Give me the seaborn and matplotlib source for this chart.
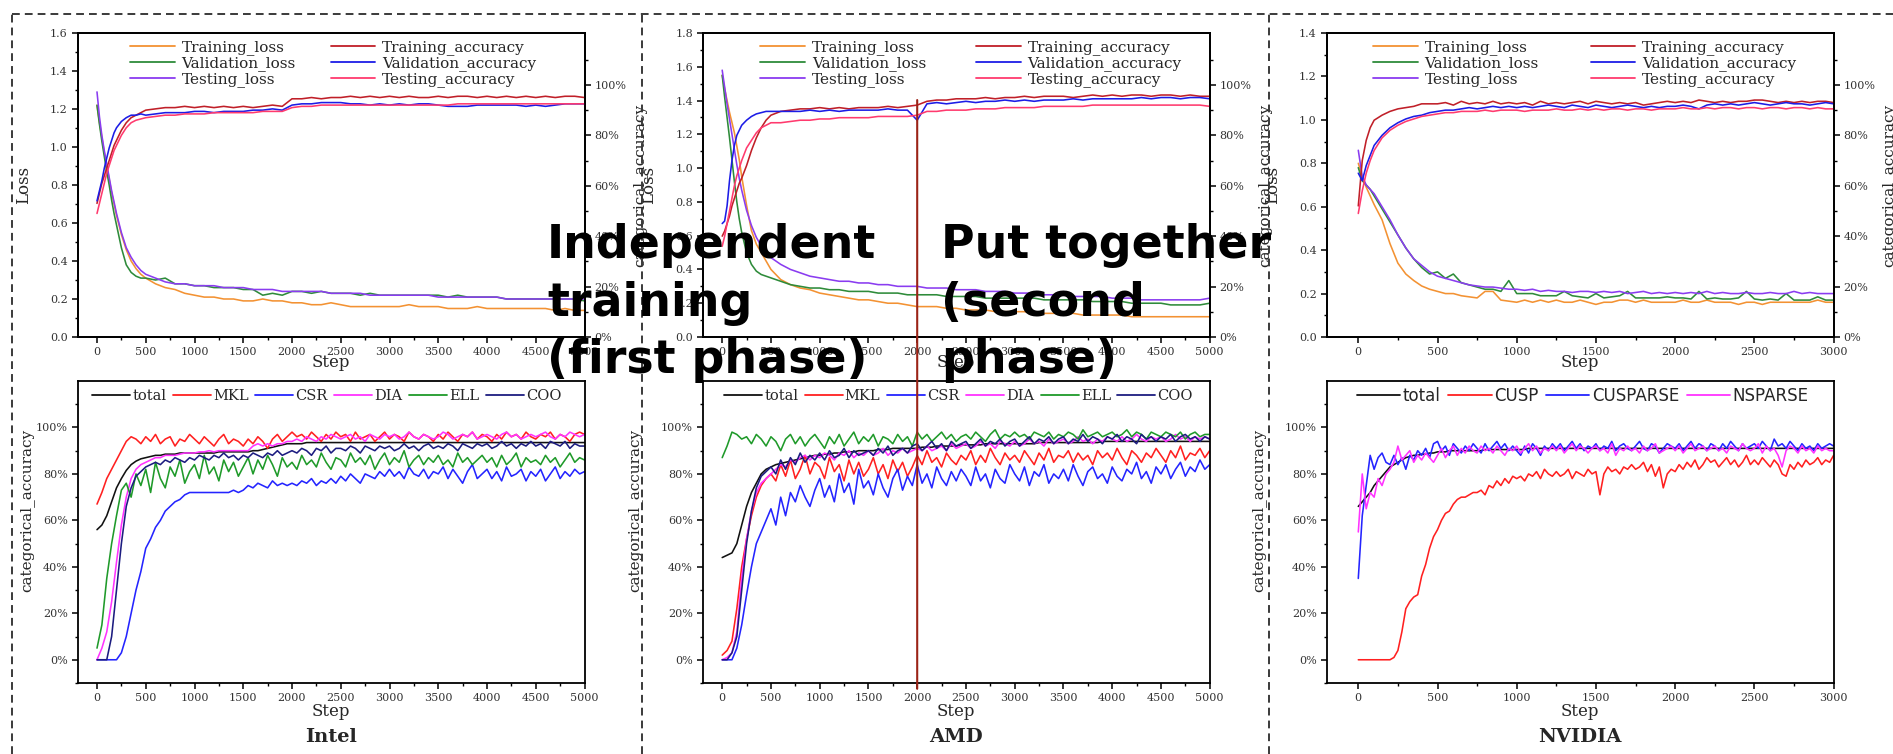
import matplotlib
matplotlib.use("Agg")
import matplotlib.pyplot as plt
import seaborn as sns
from matplotlib.lines import Line2D
from matplotlib.patches import ConnectionPatch
from matplotlib.ticker import MultipleLocator, FixedLocator, FuncFormatter

# ---------------- DATA ----------------
STEPS_TOP5 = [0, 25, 50, 75, 100, 125, 150, 175, 200, 250, 300, 350, 400, 450, 500] + list(range(600, 5001, 100))
STEPS_TOP3 = [0, 25, 50, 75, 100, 150, 200, 250, 300, 350, 400, 450, 500] + list(range(550, 3001, 50))
STEPS_BOT5 = list(range(0, 5001, 50))
STEPS_BOT3 = list(range(0, 3001, 25))

TOP_LABELS = ["Training_loss", "Validation_loss", "Testing_loss",
              "Training_accuracy", "Validation_accuracy", "Testing_accuracy"]

INTEL_TRAIN_LOSS = [1.22, 1.13, 1.05, 0.97, 0.90, 0.83, 0.76, 0.70, 0.64, 0.54, 0.46, 0.40, 0.36, 0.33, 0.31,
                    0.28, 0.26, 0.25, 0.23, 0.22, 0.21, 0.21, 0.20, 0.20, 0.19, 0.19, 0.20, 0.19, 0.19, 0.18,
                    0.18, 0.17, 0.17, 0.18, 0.17, 0.16, 0.16, 0.16, 0.16, 0.16, 0.16, 0.17, 0.16, 0.16, 0.16,
                    0.15, 0.15, 0.15, 0.16, 0.15, 0.15, 0.15, 0.15, 0.15, 0.15, 0.15, 0.14, 0.15, 0.14, 0.14]
INTEL_VAL_LOSS = [1.22, 1.12, 1.03, 0.95, 0.87, 0.80, 0.72, 0.65, 0.59, 0.47, 0.38, 0.34, 0.32, 0.31, 0.31,
                  0.30, 0.31, 0.28, 0.28, 0.27, 0.27, 0.26, 0.26, 0.26, 0.25, 0.25, 0.22, 0.23, 0.22, 0.24,
                  0.24, 0.23, 0.24, 0.23, 0.23, 0.23, 0.22, 0.23, 0.22, 0.22, 0.22, 0.22, 0.22, 0.22, 0.22,
                  0.21, 0.22, 0.21, 0.21, 0.21, 0.21, 0.20, 0.20, 0.20, 0.20, 0.20, 0.20, 0.20, 0.20, 0.19]
INTEL_TEST_LOSS = [1.29, 1.16, 1.06, 0.98, 0.91, 0.84, 0.77, 0.71, 0.65, 0.55, 0.47, 0.42, 0.38, 0.35, 0.33,
                   0.31, 0.29, 0.28, 0.28, 0.27, 0.27, 0.27, 0.26, 0.26, 0.26, 0.25, 0.25, 0.25, 0.24, 0.24,
                   0.24, 0.24, 0.24, 0.23, 0.23, 0.23, 0.23, 0.22, 0.22, 0.22, 0.22, 0.22, 0.22, 0.22, 0.21,
                   0.21, 0.21, 0.21, 0.21, 0.21, 0.21, 0.20, 0.20, 0.20, 0.20, 0.20, 0.20, 0.20, 0.20, 0.20]
INTEL_TRAIN_ACC = [53, 57, 61, 64, 67, 70, 73, 76, 78, 82, 85, 87, 88, 89, 90,
                   90.5, 91, 91, 91.5, 91, 91.5, 91, 91.5, 91, 91.5, 91, 91.5, 92, 91.5, 94.5,
                   94.5, 95, 94.5, 95, 95, 95.5, 95, 95.5, 95, 95.5, 95, 95.5, 95, 95, 95.5,
                   95, 95.5, 95.5, 95, 95.5, 95, 95.5, 95, 95.5, 95, 95.5, 95, 95.5, 95.5, 95]
INTEL_VAL_ACC = [54, 58, 62, 67, 71, 75, 78, 81, 83, 85.5, 87, 88, 88, 88.5, 88,
                 88.5, 89, 89, 89, 89.5, 89.5, 89, 89.5, 89.5, 89.5, 90, 90, 90.5, 90, 92,
                 92.5, 92.5, 93, 93, 93, 92.5, 92.5, 92, 92.5, 92, 92.5, 92, 92.5, 92.5, 92,
                 91.5, 91.5, 91.5, 92, 92, 92, 92, 92, 91.5, 92, 91.5, 92, 92.5, 92.5, 92.5]
INTEL_TEST_ACC = [49, 53, 57, 61, 65, 68, 71, 74, 76, 80, 83, 85, 86, 86.5, 87,
                  87.5, 88, 88, 88.5, 88.5, 88.5, 89, 89, 89, 89, 89, 89.5, 89.5, 89.5, 91,
                  91.5, 91.5, 92, 92, 92, 92, 92, 92, 92, 92, 92, 92, 92, 92, 92,
                  92, 92.5, 92.5, 92.5, 92.5, 92.5, 92.5, 92.5, 92.5, 92.5, 92.5, 92.5, 92.5, 92.5, 92.5]

AMD_TRAIN_LOSS = [1.55, 1.47, 1.40, 1.33, 1.27, 1.21, 1.13, 1.05, 0.95, 0.78, 0.63, 0.55, 0.50, 0.45, 0.40,
                  0.34, 0.31, 0.29, 0.28, 0.26, 0.25, 0.24, 0.23, 0.22, 0.22, 0.21, 0.20, 0.20, 0.19, 0.18,
                  0.18, 0.18, 0.17, 0.17, 0.16, 0.16, 0.16, 0.15, 0.15, 0.15, 0.15, 0.14, 0.14, 0.14, 0.14,
                  0.14, 0.13, 0.13, 0.13, 0.13, 0.13, 0.12, 0.12, 0.12, 0.12, 0.12, 0.12, 0.12, 0.12, 0.12]
AMD_VAL_LOSS = [1.55, 1.42, 1.30, 1.18, 1.05, 0.92, 0.80, 0.70, 0.62, 0.50, 0.43, 0.39, 0.37, 0.36, 0.35,
                0.33, 0.31, 0.30, 0.29, 0.29, 0.28, 0.28, 0.27, 0.27, 0.27, 0.26, 0.26, 0.26, 0.25, 0.25,
                0.25, 0.25, 0.24, 0.24, 0.24, 0.24, 0.23, 0.23, 0.23, 0.23, 0.23, 0.23, 0.22, 0.22, 0.22,
                0.22, 0.22, 0.21, 0.21, 0.21, 0.21, 0.20, 0.20, 0.20, 0.20, 0.19, 0.19, 0.19, 0.19, 0.20]
AMD_TEST_LOSS = [1.58, 1.48, 1.38, 1.29, 1.20, 1.11, 1.02, 0.94, 0.87, 0.75, 0.66, 0.59, 0.54, 0.50, 0.47,
                 0.43, 0.40, 0.38, 0.36, 0.35, 0.34, 0.33, 0.33, 0.32, 0.32, 0.31, 0.31, 0.30, 0.30, 0.30,
                 0.29, 0.29, 0.29, 0.28, 0.28, 0.28, 0.27, 0.27, 0.27, 0.26, 0.26, 0.26, 0.25, 0.25, 0.25,
                 0.24, 0.24, 0.24, 0.24, 0.23, 0.23, 0.23, 0.22, 0.22, 0.22, 0.22, 0.22, 0.22, 0.22, 0.23]
AMD_TRAIN_ACC = [40, 42, 45, 48, 52, 55, 58, 61, 63, 68, 74, 79, 83, 86, 88,
                 89.5, 90, 90.5, 90.5, 91, 90.5, 91, 90.5, 91, 91, 91, 91.5, 91, 91.5, 92,
                 93.5, 94, 94, 94.5, 94.5, 94.5, 95, 94.5, 95, 95, 95.5, 95, 95.5, 95.5, 95.5,
                 95, 95.5, 96, 95.5, 96, 95.5, 96, 96, 95.5, 96, 96, 95.5, 96, 95.5, 95.5]
AMD_VAL_ACC = [45, 46, 52, 62, 70, 76, 80, 82, 84, 86, 87.5, 88.5, 89, 89.5, 89.5,
               89.5, 89.5, 89.5, 90, 89.5, 90, 89.5, 90, 90, 90, 90, 90.5, 90, 90, 86,
               92.5, 93, 92.5, 93, 93.5, 93, 93.5, 93.5, 94, 93.5, 94, 93.5, 94, 94, 94,
               94.5, 94, 94.5, 94.5, 94.5, 94.5, 94.5, 95, 94.5, 95, 95, 94.5, 95, 95, 94.5]
AMD_TEST_ACC = [36, 40, 45, 50, 55, 60, 64, 67, 70, 75, 78, 81, 83, 84, 85,
                85, 85.5, 86, 86, 86.5, 86.5, 87, 87, 87, 87, 87.5, 87.5, 87.5, 87.5, 88,
                89.5, 89.5, 90, 90, 90, 90.5, 90.5, 90.5, 91, 91, 91, 91, 91.5, 91.5, 91.5,
                91.5, 91.5, 92, 92, 92, 92, 92, 92, 92, 92, 92, 92, 92, 92, 91.5]

NV_TRAIN_LOSS = [0.80, 0.74, 0.69, 0.65, 0.61, 0.54, 0.43, 0.34, 0.29, 0.26, 0.235, 0.22, 0.21,
                 0.20, 0.20, 0.19, 0.185, 0.18, 0.21, 0.21, 0.17, 0.165, 0.16,
                 0.17, 0.16, 0.17, 0.16, 0.17, 0.16, 0.16, 0.17, 0.16, 0.15,
                 0.16, 0.16, 0.17, 0.17, 0.16, 0.17, 0.16, 0.16, 0.16, 0.16,
                 0.17, 0.16, 0.16, 0.17, 0.16, 0.16, 0.16, 0.15, 0.16, 0.16,
                 0.15, 0.16, 0.16, 0.16, 0.16, 0.16, 0.16, 0.17, 0.16, 0.16]
NV_VAL_LOSS = [0.78, 0.72, 0.70, 0.68, 0.65, 0.59, 0.53, 0.47, 0.41, 0.36, 0.32, 0.29, 0.30,
               0.27, 0.29, 0.25, 0.24, 0.23, 0.22, 0.22, 0.21, 0.26, 0.20,
               0.20, 0.20, 0.19, 0.19, 0.19, 0.21, 0.19, 0.185, 0.18, 0.20,
               0.18, 0.185, 0.19, 0.21, 0.18, 0.18, 0.18, 0.18, 0.185, 0.18,
               0.18, 0.175, 0.21, 0.175, 0.18, 0.175, 0.175, 0.18, 0.21, 0.175,
               0.17, 0.175, 0.17, 0.20, 0.17, 0.17, 0.17, 0.185, 0.17, 0.17]
NV_TEST_LOSS = [0.86, 0.74, 0.70, 0.68, 0.66, 0.60, 0.54, 0.47, 0.41, 0.36, 0.33, 0.30, 0.28,
                0.27, 0.26, 0.25, 0.24, 0.235, 0.23, 0.23, 0.225, 0.22, 0.22,
                0.215, 0.22, 0.21, 0.215, 0.21, 0.21, 0.205, 0.21, 0.21, 0.205,
                0.21, 0.205, 0.21, 0.20, 0.205, 0.21, 0.20, 0.205, 0.20, 0.205,
                0.20, 0.205, 0.20, 0.21, 0.20, 0.205, 0.20, 0.20, 0.205, 0.20,
                0.20, 0.205, 0.20, 0.20, 0.21, 0.20, 0.205, 0.20, 0.20, 0.20]
NV_TRAIN_ACC = [52, 70, 78, 83, 86, 88, 89.5, 90.5, 91, 91.5, 92.5, 92.5, 92.5,
                93, 92, 93.5, 92.5, 93, 92.5, 93.5, 92.5, 93, 92.5,
                93, 92, 93.5, 92.5, 93, 92.5, 93, 93.5, 92.5, 93.5,
                93, 92.5, 93, 92.5, 93, 92, 92.5, 93, 93.5, 93,
                93.5, 93, 94, 93.5, 93, 93.5, 93, 93.5, 93.5, 94,
                94, 93.5, 93, 93.5, 93, 93.5, 93, 93.5, 93.5, 93]
NV_VAL_ACC = [65, 62, 68, 72, 76, 80, 83, 85, 86.5, 87.5, 88, 89, 89.5,
              90, 90, 90.5, 91, 90.5, 91, 91.5, 91, 91.5, 91,
              91.5, 91, 91.5, 92, 91.5, 91, 92, 91.5, 91, 92,
              91.5, 91, 91.5, 92, 91.5, 91, 91.5, 91, 91.5, 91.5,
              92, 91.5, 90.5, 92, 92.5, 92, 92.5, 92, 92.5, 93,
              92.5, 92, 92.5, 93, 92.5, 92.5, 92, 92.5, 93, 92.5]
NV_TEST_ACC = [49, 58, 65, 70, 74, 79, 82, 84, 85.5, 86.5, 87.5, 88, 88.5,
               89, 89, 89.5, 89.5, 89.5, 90, 89.5, 90, 90, 90,
               89.5, 90, 90, 90, 90.5, 90, 90, 90.5, 90, 90.5,
               90, 90.5, 90.5, 90, 90.5, 90.5, 90, 90.5, 90.5, 90.5,
               91, 90.5, 90.5, 91, 90.5, 91, 91, 90.5, 91, 91,
               90.5, 91, 91, 90.5, 91, 91, 90.5, 91, 90.5, 90.5]

INTEL_FORMATS = ["total", "MKL", "CSR", "DIA", "ELL", "COO"]
INTEL_TOTAL = [56, 58, 62, 68, 74, 78, 81.5, 84, 85.5, 86.5,
               87, 87.5, 88, 88, 88.5, 88.5, 88.5, 89, 89, 89,
               89, 89, 89, 89, 89, 89.5, 89.5, 89.5, 89.5, 89.5,
               89.5, 89.5, 90, 90, 90.5, 91, 91.5, 92, 92.5, 93,
               93, 93, 93, 93.5, 93.5, 93.5, 93.5, 93.5, 93.5, 93.5,
               93.5, 93.5, 93.5, 93.5, 93.5, 93.5, 93.5, 93.5, 93.5, 93.5,
               93.5, 93.5, 93.5, 93.5, 93.5, 93.5, 93.5, 93.5, 93.5, 93.5,
               93.5, 93.5, 93.5, 93.5, 93.5, 93.5, 93.5, 93.5, 93.5, 93.5,
               93.5, 93.5, 93.5, 93.5, 93.5, 93.5, 93.5, 93.5, 93.5, 93.5,
               93.5, 93.5, 93.5, 93.5, 93.5, 93.5, 93.5, 93.5, 93.5, 93.5,
               93.5]
INTEL_MKL = [67, 72, 78, 82, 86, 90, 94, 96, 95, 93,
             96, 94, 97, 93, 95, 96, 92, 95, 94, 97,
             95, 93, 96, 94, 92, 95, 97, 93, 95, 94,
             92, 95, 93, 96, 94, 91, 95, 97, 94, 96,
             98, 96, 97, 95, 98, 96, 94, 97, 95, 98,
             96, 97, 94, 98, 95, 96, 97, 94, 96, 98,
             95, 97, 96, 94, 98, 96, 95, 97, 96, 94,
             97, 95, 98, 96, 94, 97, 96, 98, 95, 97,
             96, 94, 97, 95, 98, 96, 97, 95, 98, 96,
             95, 97, 96, 98, 95, 97, 96, 94, 97, 98,
             97]
INTEL_CSR = [0, 0, 0, 0, 0, 3, 10, 20, 30, 38,
             48, 52, 57, 60, 64, 66, 68, 69, 71, 72,
             72, 72, 72, 72, 72, 72, 72, 72, 73, 72,
             73, 75, 74, 76, 75, 74, 77, 75, 76, 75,
             76, 75, 77, 76, 78, 75, 77, 76, 78, 76,
             79, 77, 80, 78, 76, 80, 79, 78, 81, 79,
             82, 79, 81, 78, 83, 80, 79, 82, 78, 81,
             80, 83, 78, 82, 79, 76, 81, 84, 78, 80,
             82, 78, 81, 77, 83, 79, 80, 82, 77, 81,
             79, 82, 77, 80, 83, 78, 81, 79, 82, 80,
             81]
INTEL_DIA = [0, 5, 12, 25, 42, 58, 70, 78, 82, 84,
             85, 86, 87, 87, 88, 88, 88, 88.5, 89, 89,
             89, 89.5, 89.5, 90, 89.5, 90, 90, 90, 90, 90,
             90, 90, 92, 93, 92, 93, 92, 93, 93, 94,
             94, 95, 94, 96, 95, 94, 96, 95, 97, 96,
             95, 96, 97, 95, 96, 94, 97, 96, 95, 97,
             96, 97, 95, 96, 98, 96, 95, 97, 96, 95,
             96, 98, 97, 95, 96, 97, 96, 98, 95, 96,
             97, 96, 95, 97, 98, 96, 97, 95, 96, 97,
             96, 97, 98, 96, 95, 97, 96, 98, 97, 96,
             97]
INTEL_ELL = [5, 15, 35, 50, 62, 73, 76, 70, 80, 75,
             82, 72, 85, 78, 74, 83, 79, 86, 76, 81,
             84, 78, 88, 80, 83, 77, 86, 81, 85, 79,
             83, 87, 80, 86, 82, 88, 84, 79, 87, 83,
             85, 82, 88, 84, 86, 83, 89, 85, 82, 87,
             86, 83, 89, 85, 87, 84, 88, 82, 86, 89,
             84, 87, 85, 90, 83, 86, 88, 84, 87, 85,
             88, 84, 86, 83, 89, 85, 87, 84, 86, 88,
             85, 87, 83, 88, 84, 86, 89, 83, 87, 85,
             86, 84, 88, 85, 87, 83, 86, 89, 85, 87,
             86]
INTEL_COO = [0, 0, 0, 10, 30, 50, 66, 74, 79, 81,
             83, 84, 85, 84, 86, 85, 87, 86, 85, 87,
             86, 88, 87, 86, 88, 87, 89, 87, 88, 86,
             88, 87, 89, 88, 87, 89, 88, 90, 88, 89,
             90, 89, 91, 90, 88, 91, 90, 92, 89, 91,
             91, 90, 92, 91, 89, 92, 91, 90, 92, 91,
             92, 90, 91, 93, 91, 92, 90, 92, 93, 91,
             92, 91, 93, 92, 90, 93, 92, 91, 93, 92,
             93, 91, 92, 94, 92, 93, 91, 93, 92, 94,
             92, 93, 91, 94, 93, 92, 94, 91, 93, 92,
             92]

AMD_TOTAL = [44, 45, 46, 50, 58, 66, 72, 76, 80, 82,
             83, 84, 84.5, 85, 85.5, 86, 86.5, 87, 87.5, 88,
             88, 88.5, 88.5, 89, 89, 89.5, 89.5, 89.5, 90, 90,
             90, 90, 90.5, 90.5, 90.5, 91, 91, 91, 91, 91,
             91, 91.5, 91.5, 91.5, 92, 92, 92, 92, 92, 92.5,
             92.5, 92.5, 92.5, 92.5, 93, 93, 93, 93, 93, 93,
             93, 93, 93, 93, 93, 93.5, 93.5, 93.5, 93.5, 93.5,
             93.5, 93.5, 93.5, 93.5, 93.5, 93.5, 93.5, 93.5, 94, 94,
             94, 94, 94, 94, 94, 94, 94, 94, 94, 94,
             94, 94, 94, 94, 94, 94, 94, 94, 94, 94,
             94]
AMD_MKL = [2, 4, 8, 22, 40, 52, 62, 70, 75, 78,
           80, 77, 84, 79, 86, 78, 82, 88, 80, 85,
           83, 78, 87, 81, 84, 77, 86, 80, 85, 79,
           82, 87, 80, 84, 78, 86, 81, 85, 79, 83,
           88, 84, 90, 85, 87, 83, 89, 86, 84, 88,
           86, 90, 84, 88, 85, 91, 87, 84, 89, 86,
           88, 85, 90, 87, 84, 89, 86, 91, 85, 88,
           87, 90, 85, 89, 86, 88, 84, 90, 87, 89,
           86, 91, 87, 84, 90, 88, 85, 89, 87, 91,
           88, 85, 90, 87, 92, 86, 89, 88, 91, 87,
           90]
AMD_CSR = [0, 0, 0, 5, 15, 28, 40, 50, 55, 60,
           65, 58, 70, 62, 72, 68, 75, 70, 66, 73,
           78, 70, 75, 68, 80, 72, 76, 67, 82, 74,
           77, 71, 80, 74, 70, 78, 82, 73, 79, 75,
           84, 76, 80, 74, 83, 78, 75, 81, 77, 82,
           79, 75, 83, 77, 80, 74, 82, 78, 76, 84,
           80, 77, 83, 75, 81, 79, 84, 76, 80, 78,
           82, 77, 84, 79, 75, 81, 83, 78, 80, 76,
           83, 79, 77, 82, 80, 85, 78, 81, 76, 83,
           80, 84, 78, 82, 85, 79, 83, 81, 86, 82,
           84]
AMD_DIA = [0, 1, 3, 12, 35, 52, 64, 72, 76, 78,
           80, 82, 84, 83, 86, 85, 87, 88, 86, 88,
           87, 89, 88, 86, 89, 88, 90, 87, 89, 88,
           90, 88, 89, 91, 88, 90, 89, 91, 89, 90,
           91, 90, 92, 90, 91, 92, 90, 93, 91, 92,
           93, 91, 92, 94, 92, 93, 91, 94, 93, 92,
           94, 92, 93, 95, 93, 94, 92, 95, 93, 94,
           95, 93, 94, 96, 94, 95, 93, 95, 94, 96,
           95, 94, 96, 94, 95, 97, 95, 94, 96, 95,
           96, 94, 95, 97, 95, 96, 94, 96, 95, 96,
           95]
AMD_ELL = [87, 92, 98, 97, 95, 96, 93, 97, 95, 92,
           96, 94, 90, 95, 97, 93, 96, 92, 95, 97,
           94, 91, 96, 93, 97, 92, 95, 98, 93, 96,
           94, 97, 92, 96, 95, 93, 97, 94, 96, 92,
           98, 95, 97, 94, 96, 98, 95, 97, 94, 96,
           97, 95, 98, 96, 94, 97, 99, 95, 97, 96,
           98, 96, 97, 95, 98, 97, 96, 98, 95, 97,
           96, 98, 97, 95, 99, 96, 97, 98, 96, 97,
           98, 96, 97, 99, 96, 98, 97, 95, 98, 97,
           96, 98, 97, 96, 98, 95, 97, 98, 96, 97,
           97]
AMD_COO = [0, 0, 3, 10, 30, 50, 64, 74, 79, 81,
           83, 80, 86, 82, 87, 84, 89, 85, 88, 86,
           89, 86, 90, 87, 88, 91, 87, 90, 88, 89,
           90, 88, 91, 89, 92, 88, 90, 91, 89, 92,
           93, 90, 92, 94, 91, 93, 90, 94, 92, 93,
           94, 91, 93, 95, 92, 94, 93, 95, 92, 94,
           95, 92, 94, 96, 93, 95, 94, 96, 93, 95,
           96, 93, 95, 94, 97, 94, 96, 95, 93, 96,
           95, 97, 94, 96, 95, 93, 97, 95, 96, 94,
           96, 95, 97, 94, 96, 97, 95, 96, 94, 96,
           95]

NV_FORMATS = ["total", "CUSP", "CUSPARSE", "NSPARSE"]
NV_TOTAL = [66, 68, 70, 72, 75, 77, 79, 81, 83, 84,
            85, 86, 87, 87.5, 88, 88, 88.5, 88.5, 89, 89,
            89.5, 89.5, 89.5, 90, 90, 90, 90, 90, 90, 90,
            90, 90, 90.5, 90.5, 90.5, 90.5, 90.5, 90.5, 90.5, 90.5,
            90.5, 90.5, 90.5, 91, 91, 91, 91, 91, 91, 91,
            91, 91, 91, 91, 91, 91, 91, 91, 91, 91,
            91, 91, 91, 91, 91, 91, 91, 91, 91, 91,
            91, 91, 91, 91, 91, 91, 91, 91, 91, 91,
            91, 91, 91, 91, 91, 91, 91, 91, 91, 91,
            91, 91, 91, 91, 91, 91, 91, 91, 91, 91,
            91, 91, 91, 91, 91, 91, 91, 91, 91, 91,
            91, 91, 91, 91, 91, 91, 91, 91, 91, 91,
            91]
NV_CUSP = [0, 0, 0, 0, 0, 0, 0, 0, 0, 1,
           4, 12, 22, 25, 27, 28, 36, 41, 48, 53,
           56, 60, 63, 64, 67, 69, 70, 70, 71, 72,
           72, 73, 71, 75, 74, 77, 75, 78, 76, 79,
           78, 79, 77, 80, 79, 81, 78, 82, 80, 79,
           81, 79, 80, 82, 78, 81, 80, 79, 82, 80,
           81, 71, 80, 83, 81, 82, 80, 83, 82, 84,
           82, 83, 85, 81, 84, 79, 83, 74, 80, 82,
           81, 84, 82, 85, 83, 86, 82, 84, 87, 85,
           86, 83, 85, 87, 84, 86, 83, 85, 88, 84,
           86, 84, 87, 85, 83, 86, 84, 80, 79, 84,
           82, 85, 83, 86, 84, 85, 87, 84, 86, 85,
           88]
NV_CUSPARSE = [35, 62, 75, 88, 82, 87, 89, 85, 84, 88,
               84, 87, 82, 88, 86, 90, 88, 91, 87, 93,
               94, 90, 92, 88, 93, 91, 89, 92, 90, 93,
               91, 89, 93, 90, 92, 94, 91, 93, 90, 92,
               90, 88, 92, 89, 93, 91, 88, 92, 90, 93,
               91, 93, 90, 92, 94, 91, 93, 90, 92, 91,
               93, 90, 92, 91, 94, 90, 92, 93, 91, 90,
               92, 94, 91, 90, 93, 92, 89, 91, 93, 92,
               91, 93, 90, 92, 94, 91, 93, 92, 90, 93,
               92, 90, 93, 91, 94, 92, 90, 93, 91, 92,
               93, 91, 94, 92, 90, 95, 92, 93, 91, 94,
               92, 90, 93, 91, 92, 90, 93, 91, 92, 93,
               92]
NV_NSPARSE = [55, 80, 65, 72, 70, 78, 75, 80, 82, 85,
              92, 86, 88, 90, 85, 88, 86, 89, 87, 85,
              88, 91, 87, 90, 92, 88, 91, 89, 92, 90,
              89, 92, 90, 91, 89, 92, 90, 88, 91, 90,
              92, 89, 91, 93, 90, 92, 89, 91, 90, 92,
              90, 92, 89, 91, 93, 90, 92, 91, 89, 91,
              92, 90, 91, 89, 93, 88, 91, 90, 92, 90,
              91, 89, 92, 90, 91, 93, 89, 90, 91, 92,
              90, 92, 89, 91, 93, 90, 91, 92, 90, 91,
              92, 90, 91, 89, 92, 91, 90, 93, 91, 90,
              91, 93, 89, 92, 90, 91, 88, 83, 90, 92,
              91, 89, 92, 90, 91, 89, 92, 90, 91, 90,
              90]

PANEL_NAMES = ["Intel", "AMD", "NVIDIA"]
PHASE_TEXT_1 = "Independent\ntraining\n(first phase)"
PHASE_TEXT_2 = "Put together\n(second\nphase)"
PHASE_SPLIT_STEP = 2000

# ---------------- STYLE ----------------
TOP_COLORS = ["#f39233", "#2e8b3a", "#8a3cf0", "#c01f28", "#1c1ce6", "#ff3a6e"]
INTEL_COLORS = ["#111111", "#ff2020", "#2424ff", "#ff33ff", "#1f9a2a", "#1c1c80"]
NV_COLORS = ["#111111", "#ff2020", "#2424ff", "#ff33ff"]

sns.set_theme(style="ticks")
plt.rcParams['font.family'] = ['DejaVu Serif']
plt.rcParams['axes.linewidth'] = 1.3
plt.rcParams['axes.edgecolor'] = 'black'

W, H = 1893, 754
fig = plt.figure(figsize=(W / 100, H / 100), dpi=100)

COL_LEFT = [77.5, 702.7, 1326.6]
AX_W = 507
TOP_Y = (33, 337)
BOT_Y = (381, 683)


def frac_rect(left, ytop, ybot):
    return [left / W, 1 - ybot / H, AX_W / W, (ybot - ytop) / H]


def style_ax(ax):
    for s in ax.spines.values():
        s.set_linewidth(1.3)
        s.set_color('black')
    ax.tick_params(which='major', length=4.5, width=1.1, direction='out',
                   labelsize=8, labelcolor='#333333', color='black', pad=2.5)
    ax.tick_params(which='minor', length=2.5, width=1.0, direction='out', color='black')


def top_panel(i, steps, losses, accs, ymax, ymajor, xmax, leg_x, colspace):
    ax = fig.add_axes(frac_rect(COL_LEFT[i], *TOP_Y))
    for vals, c in zip(losses, TOP_COLORS[:3]):
        sns.lineplot(x=steps, y=vals, ax=ax, color=c, linewidth=1.15, legend=False)
    ax2 = ax.twinx()
    for vals, c in zip(accs, TOP_COLORS[3:]):
        sns.lineplot(x=steps, y=vals, ax=ax2, color=c, linewidth=1.15, legend=False)
    ax.set_xlim(-200, xmax)
    ax.set_ylim(0, ymax)
    ax2.set_ylim(0, 120.6)
    ax.xaxis.set_major_locator(MultipleLocator(500))
    ax.xaxis.set_minor_locator(MultipleLocator(250))
    ax.yaxis.set_major_locator(MultipleLocator(ymajor))
    ax.yaxis.set_minor_locator(MultipleLocator(ymajor / 2))
    ax.yaxis.set_major_formatter(FuncFormatter(lambda v, p: f"{v:.1f}"))
    ax2.yaxis.set_major_locator(FixedLocator([0, 20, 40, 60, 80, 100]))
    ax2.yaxis.set_minor_locator(FixedLocator([10, 30, 50, 70, 90, 110]))
    ax2.yaxis.set_major_formatter(FuncFormatter(lambda v, p: f"{int(v)}%"))
    style_ax(ax)
    style_ax(ax2)
    ax.set_xlabel("Step", fontsize=12)
    ax.xaxis.set_label_coords(0.5, -0.055)
    ax.set_ylabel("Loss", fontsize=12)
    ax.yaxis.set_label_coords(-0.09, 0.5)
    ax2.set_ylabel("categorical_accuracy", fontsize=11)
    ax2.yaxis.set_label_coords(1.095, 0.5)
    handles = [Line2D([], [], color=c, lw=1.3) for c in TOP_COLORS]
    ax2.legend(handles, TOP_LABELS, ncol=2, loc='upper left', bbox_to_anchor=(leg_x, 0.975),
               frameon=False, fontsize=11, handlelength=2.9, handletextpad=0.45,
               columnspacing=colspace, labelspacing=0.05, borderpad=0, borderaxespad=0)
    return ax, ax2


def bottom_panel(i, steps, series, labels, colors, xmax, leg_x, ylab_x, leg_family, leg_size, colspace):
    ax = fig.add_axes(frac_rect(COL_LEFT[i], *BOT_Y))
    for vals, c in zip(series, colors):
        sns.lineplot(x=steps, y=vals, ax=ax, color=c, linewidth=1.15, legend=False)
    ax.set_xlim(-200, xmax)
    ax.set_ylim(-10, 120)
    ax.xaxis.set_major_locator(MultipleLocator(500))
    ax.xaxis.set_minor_locator(MultipleLocator(250))
    ax.yaxis.set_major_locator(FixedLocator([0, 20, 40, 60, 80, 100]))
    ax.yaxis.set_minor_locator(FixedLocator([-10, 10, 30, 50, 70, 90, 110]))
    ax.yaxis.set_major_formatter(FuncFormatter(lambda v, p: f"{int(v)}%"))
    style_ax(ax)
    ax.set_xlabel("Step", fontsize=12)
    ax.xaxis.set_label_coords(0.5, -0.066)
    ax.set_ylabel("categorical_accuracy", fontsize=11)
    ax.yaxis.set_label_coords(ylab_x, 0.57)
    handles = [Line2D([], [], color=c, lw=1.3) for c in colors]
    ax.legend(handles, labels, ncol=len(labels), loc='center left', bbox_to_anchor=(leg_x, 0.95),
              frameon=False, prop={'family': leg_family, 'size': leg_size},
              handlelength=2.6, handletextpad=0.15, columnspacing=colspace, borderpad=0, borderaxespad=0)
    ax.text(0.5, -0.18, PANEL_NAMES[i], transform=ax.transAxes, ha='center', va='center',
            fontsize=14, fontweight='bold')
    return ax


top_panel(0, STEPS_TOP5, [INTEL_TRAIN_LOSS, INTEL_VAL_LOSS, INTEL_TEST_LOSS],
          [INTEL_TRAIN_ACC, INTEL_VAL_ACC, INTEL_TEST_ACC], 1.6, 0.2, 5000, 0.104, 2.3)
_, amd_top2 = top_panel(1, STEPS_TOP5, [AMD_TRAIN_LOSS, AMD_VAL_LOSS, AMD_TEST_LOSS],
                        [AMD_TRAIN_ACC, AMD_VAL_ACC, AMD_TEST_ACC], 1.8, 0.2, 5000, 0.114, 3.3)
top_panel(2, STEPS_TOP3, [NV_TRAIN_LOSS, NV_VAL_LOSS, NV_TEST_LOSS],
          [NV_TRAIN_ACC, NV_VAL_ACC, NV_TEST_ACC], 1.4, 0.2, 3000, 0.092, 3.4)

bottom_panel(0, STEPS_BOT5, [INTEL_TOTAL, INTEL_MKL, INTEL_CSR, INTEL_DIA, INTEL_ELL, INTEL_COO],
             INTEL_FORMATS, INTEL_COLORS, 5000, 0.029, -0.085, 'DejaVu Serif', 10.5, 0.45)
amd_bot = bottom_panel(1, STEPS_BOT5, [AMD_TOTAL, AMD_MKL, AMD_CSR, AMD_DIA, AMD_ELL, AMD_COO],
                       INTEL_FORMATS, INTEL_COLORS, 5000, 0.042, -0.12, 'DejaVu Serif', 10.5, 0.45)
bottom_panel(2, STEPS_BOT3, [NV_TOTAL, NV_CUSP, NV_CUSPARSE, NV_NSPARSE],
             NV_FORMATS, NV_COLORS, 3000, 0.06, -0.12, 'DejaVu Sans', 12, 0.45)

# phase separator line at step 2000 (AMD column)
con = ConnectionPatch(xyA=(PHASE_SPLIT_STEP, 94), coordsA=amd_top2.transData,
                      xyB=(PHASE_SPLIT_STEP, -12.5), coordsB=amd_bot.transData,
                      color="#9b2316", lw=1.5, zorder=20)
fig.add_artist(con)

# dashed frames
dash_kw = dict(color="#3a3a3a", lw=1.4, linestyle=(0, (4, 2.6)), transform=fig.transFigure)
fig.add_artist(Line2D([12 / W, 1.0], [1 - 14 / H, 1 - 14 / H], **dash_kw))
for xpx in (12, 642, 1269):
    fig.add_artist(Line2D([xpx / W, xpx / W], [0, 1 - 14 / H], **dash_kw))

# phase annotations
txt_kw = dict(fontsize=33, fontweight='bold', family='DejaVu Sans', va='top', ha='left',
              linespacing=1.36, color='black', zorder=30)
fig.text(547 / W, 1 - 223 / H, PHASE_TEXT_1, **txt_kw)
fig.text(941 / W, 1 - 223 / H, PHASE_TEXT_2, **txt_kw)

fig.savefig("out.png", dpi=100)
